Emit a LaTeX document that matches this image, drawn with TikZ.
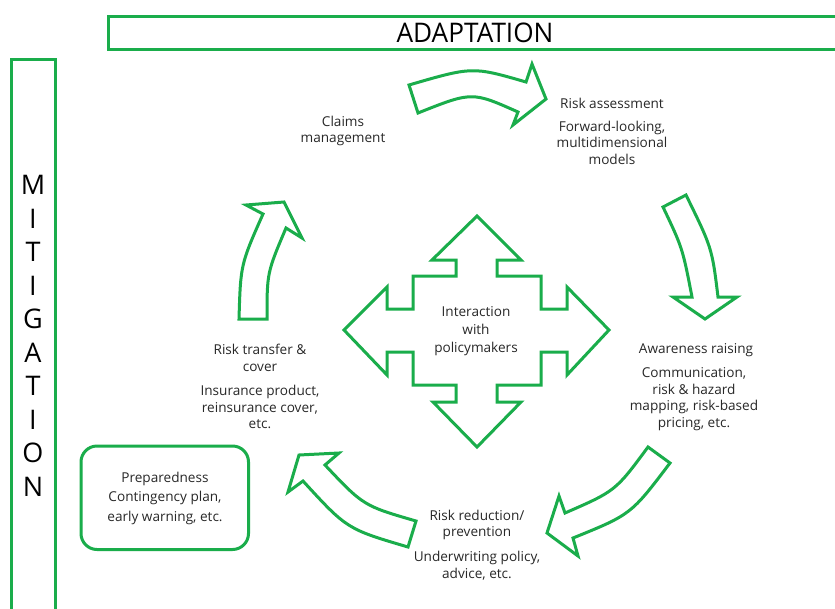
\documentclass[tikz,border=0pt]{standalone}
\usepackage{fontspec}
\setmainfont{Open Sans}
\definecolor{grn}{RGB}{26,173,75}
\definecolor{txt}{RGB}{40,40,40}
\begin{document}
\begin{tikzpicture}[x=1pt,y=-1pt,
  frame/.style={draw=grn, line width=3pt},
  blockarrow/.style={draw=grn, line width=3pt, line join=miter, fill=white},
  lbl/.style={font=\fontsize{13.6}{16.5}\selectfont, text=txt, align=center, inner sep=0pt},
  big/.style={font=\fontsize{27}{33.5}\selectfont, text=black, align=center, inner sep=0pt}]
\useasboundingbox (0,0) rectangle (835,608);
\fill[white] (0,0) rectangle (835,608);

% frames
\draw[frame] (108,16) rectangle (850,49);
\node[big] (adapt) at (475,33) {\scalebox{0.97}[1]{ADAPTATION}};
\draw[frame] (11.5,59) rectangle (55,620);
\node[big, text width=30pt] (mitig) at (33,336) {M\\I\\T\\I\\G\\A\\T\\I\\O\\N};
\draw[frame, rounded corners=16pt] (81,446) rectangle (248.5,549.5);
\node[lbl, font=\fontsize{13.6}{19.5}\selectfont] (prep) at (165,498) {Preparedness\\Contingency plan,\\early warning, etc.};

% curved block arrows
\draw[blockarrow] (409,85) .. controls (472.5,66.5) .. (526,82) -- (532,64) -- (546,99) -- (513,125) -- (518,112) .. controls (472,91.5) .. (418,113) -- cycle;
\draw[blockarrow] (663,207) -- (686,195) .. controls (712,248) .. (718,297) -- (737,297) -- (705,319) -- (673,297) -- (692,297) .. controls (682.5,248) .. (663,207) -- cycle;
\draw[blockarrow] (648,447) -- (670,463) .. controls (631,514.5) .. (573,538) -- (578,556) -- (547,533) -- (559,496) -- (565,513) .. controls (615.5,491) .. (648,447) -- cycle;
\draw[blockarrow] (416,521) .. controls (363.5,505.8) .. (325,465) -- (339,453) -- (299,455) -- (288,492) -- (303,481) .. controls (347,529) .. (408,547) -- cycle;
\draw[blockarrow] (239,319) .. controls (240.6,264.5) .. (263,214) -- (246,205) -- (284,202) -- (302,238) -- (286,228) .. controls (267,272.7) .. (267,319) -- cycle;

% central four-way arrow
\draw[blockarrow] (477,216) -- (521,260) -- (497,260) -- (497,276) -- (541,276) -- (541,309) -- (567,309) -- (567,287) -- (609,330) -- (567,375) -- (567,352) -- (541,352) -- (541,385) -- (497,385) -- (497,402) -- (521,402) -- (477,447) -- (433,402) -- (456,402) -- (456,385) -- (413,385) -- (413,352) -- (387,352) -- (387,375) -- (344,330) -- (387,287) -- (387,309) -- (413,309) -- (413,276) -- (456,276) -- (456,260) -- (432,260) -- cycle;
\node[lbl, font=\fontsize{13.6}{18}\selectfont] (inter) at (476,331) {Interaction\\with\\policymakers};

% labels
\node[lbl] (claims) at (343,131) {Claims\\management};
\node[lbl] (riskass) at (612,103) {Risk assessment};
\node[lbl] (riskassb) at (612,142.5) {Forward-looking,\\multidimensional\\models};
\node[lbl] (aware) at (696,350) {Awareness raising};
\node[lbl] (awareb) at (694,399) {Communication,\\risk \& hazard\\mapping, risk-based\\pricing, etc.};
\node[lbl] (reduct) at (477,525) {Risk reduction/\\prevention};
\node[lbl] (reductb) at (477,565.5) {Underwriting policy,\\advice, etc.};
\node[lbl] (transf) at (260,358) {Risk transfer \&\\cover};
\node[lbl] (transfb) at (260,407) {Insurance product,\\reinsurance cover,\\etc.};
\end{tikzpicture}
\end{document}
